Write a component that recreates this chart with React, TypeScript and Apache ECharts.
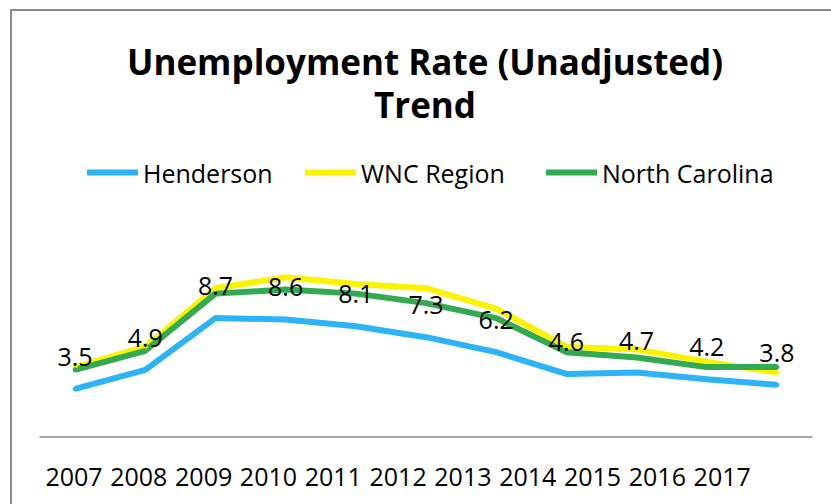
import React, { useEffect, useRef } from "react";
import * as echarts from "echarts";

const years = ["2007", "2008", "2009", "2010", "2011", "2012", "2013", "2014", "2015", "2016", "2017"];
const henderson = [3.5, 4.9, 8.7, 8.6, 8.1, 7.3, 6.2, 4.6, 4.7, 4.2, 3.8];
const wncRegion = [5.1, 6.6, 10.9, 11.7, 11.2, 10.9, 9.4, 6.6, 6.4, 5.5, 4.7];
const northCarolina = [4.9, 6.3, 10.5, 10.8, 10.5, 9.8, 8.7, 6.2, 5.8, 5.1, 5.1];
const seriesNames = ["Henderson", "WNC Region", "North Carolina"];
const titleText = "Unemployment Rate (Unadjusted)\nTrend";

const FONT = "'Open Sans', 'Noto Sans', sans-serif";
const legendLefts = [87, 305, 546];

export default function App() {
  const ref = useRef<HTMLDivElement>(null);
  useEffect(() => {
    if (!ref.current) return;
    const chart = echarts.init(ref.current, undefined, { renderer: "svg" });
    const lineSeries = (name: string, data: number[], color: string) => ({
      name,
      type: "line",
      data,
      xAxisIndex: 0,
      yAxisIndex: 0,
      showSymbol: true,
      symbol: "circle",
      symbolSize: 5,
      itemStyle: { color },
      lineStyle: { color, width: 6, join: "round" },
      label: { show: false },
      z: 2,
    });
    chart.setOption({
      animation: false,
      backgroundColor: "#fff",
      textStyle: { fontFamily: FONT },
      title: {
        text: titleText,
        left: 425,
        top: 40,
        textAlign: "center",
        padding: 0,
        textStyle: {
          fontFamily: FONT,
          fontWeight: "bold",
          fontSize: 35,
          lineHeight: 43,
          color: "#000",
        },
      },
      legend: seriesNames.map((n, i) => ({
        data: [n],
        left: legendLefts[i],
        top: 160,
        icon: "rect",
        itemWidth: 51,
        itemHeight: 6,
        padding: 0,
        textStyle: { fontFamily: FONT, fontSize: 25, color: "#000" },
      })),
      graphic: [
        {
          type: "rect",
          shape: { x: 11, y: 10, width: 830, height: 500 },
          style: { fill: "none", stroke: "#898989", lineWidth: 2 },
          silent: true,
        },
      ],
      grid: [
        { left: 40, width: 772, top: 246, height: 190.5 },
        { left: 41.6, width: 713, top: 246, height: 190.5 },
      ],
      xAxis: [
        {
          type: "category",
          gridIndex: 0,
          data: years,
          boundaryGap: true,
          axisLine: { show: true, lineStyle: { color: "#898989", width: 1.5 } },
          axisTick: { show: false },
          axisLabel: { show: false },
          splitLine: { show: false },
        },
        {
          type: "category",
          gridIndex: 1,
          data: years,
          boundaryGap: true,
          axisLine: { show: false },
          axisTick: { show: false },
          axisLabel: {
            show: true,
            interval: 0,
            margin: 27,
            fontSize: 25,
            fontFamily: FONT,
            color: "#000",
          },
          splitLine: { show: false },
        },
      ],
      yAxis: [
        { type: "value", gridIndex: 0, min: 0, max: 14, show: false, splitLine: { show: false } },
        { type: "value", gridIndex: 1, min: 0, max: 14, show: false, splitLine: { show: false } },
      ],
      series: [
        lineSeries(seriesNames[0], henderson, "#2db4f8"),
        lineSeries(seriesNames[1], wncRegion, "#fbf300"),
        lineSeries(seriesNames[2], northCarolina, "#32aa4f"),
        {
          name: "HendersonLabels",
          type: "line",
          data: henderson,
          xAxisIndex: 0,
          yAxisIndex: 0,
          showSymbol: true,
          symbol: "circle",
          symbolSize: 1,
          itemStyle: { color: "rgba(0,0,0,0)" },
          lineStyle: { width: 0, opacity: 0 },
          label: {
            show: true,
            position: "top",
            distance: 20,
            color: "#000",
            fontSize: 25,
            fontFamily: FONT,
            formatter: (p: any) => Number(p.value).toFixed(1),
          },
          z: 5,
          silent: true,
        },
      ],
    });
    return () => chart.dispose();
  }, []);
  return (
    <div
      ref={ref}
      style={{ position: "fixed", left: 0, top: 0, width: 831, height: 504, background: "#fff" }}
    />
  );
}
